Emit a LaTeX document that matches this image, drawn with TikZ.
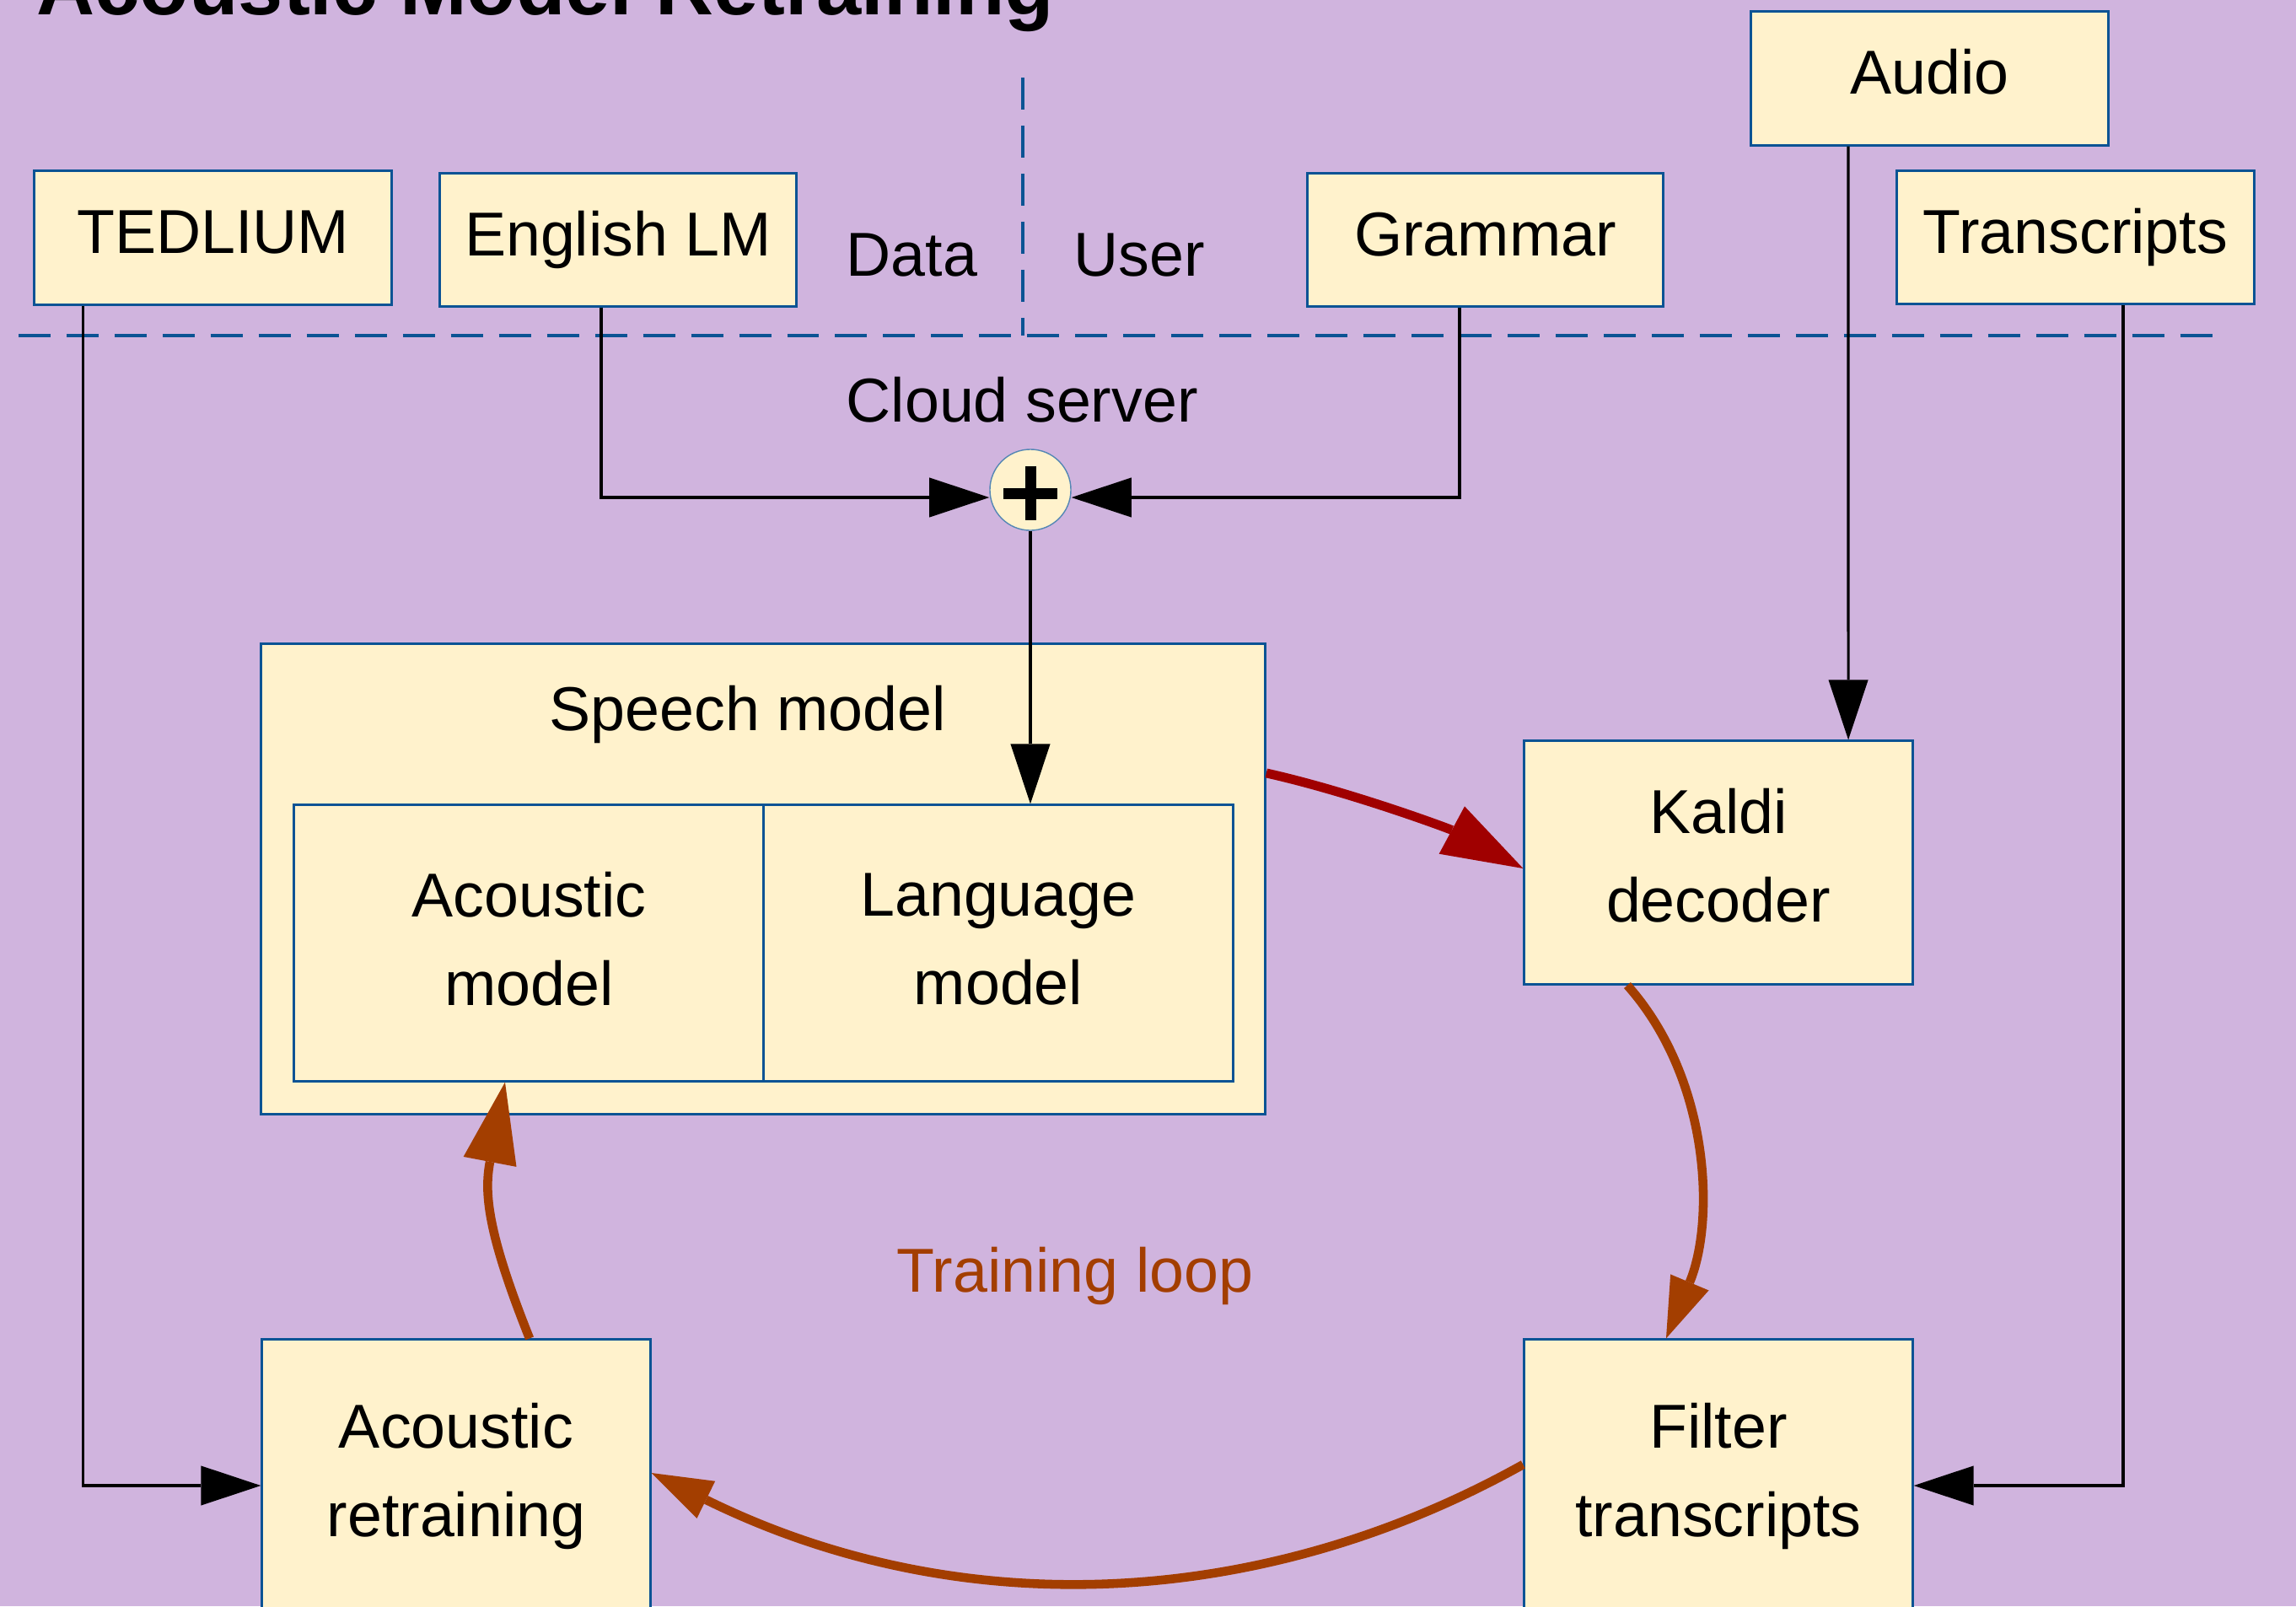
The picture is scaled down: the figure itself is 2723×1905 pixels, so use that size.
\documentclass[tikz,border=0pt]{standalone}
\usepackage{fontspec}
\setmainfont{Liberation Sans}
\usetikzlibrary{arrows.meta,calc}
\definecolor{bg}{RGB}{208,180,222}
\definecolor{cream}{RGB}{255,242,204}
\definecolor{bord}{RGB}{11,83,148}
\definecolor{darkred}{RGB}{160,0,0}
\definecolor{rust}{RGB}{163,62,0}
\newcommand{\dropby}[1]{\rule[-#1]{0pt}{0pt}}
\begin{document}
\begin{tikzpicture}[x=0.01cm,y=-0.01cm,
  font=\fontsize{20.92pt}{29.87pt}\selectfont,
  box/.style={draw=bord,fill=cream,line width=0.85pt,inner sep=0pt,align=center},
  oneline/.style={text height=15.05pt,text depth=4.38pt},
  conn/.style={line width=0.9pt,-{Triangle[length=20.2pt,width=13.4pt,line width=0pt]}},
  bigred/.style={darkred,line width=3.1pt,-{Triangle[length=27.3pt,width=18.2pt,line width=0pt]}},
  loopbig/.style={rust,line width=3pt,-{Triangle[length=27.3pt,width=18.2pt,line width=0pt]}},
  loopsmall/.style={rust,line width=3pt,-{Triangle[length=20.5pt,width=14pt,line width=0pt]}},
  sepline/.style={draw=bord,line width=1.1pt,dash pattern=on 10.8pt off 5.4pt},
  lbl/.style={anchor=base west,inner sep=0pt}]
\useasboundingbox (0,0) rectangle (2723,1905);
\fill[bg] (0,0) rectangle (2723,1905);

% title
\node[lbl,font=\fontsize{27.2pt}{32pt}\selectfont\bfseries] (title) at (43,17) {Acoustic Model Retraining};

% separators
\coordinate (hl) at (22,398);
\coordinate (hr) at (2635,398);
\coordinate (vt) at (1213,92);
\coordinate (vb) at (1213,398);
\draw[sepline] (hl) -- (hr);
\draw[sepline] (vt) -- (vb);

% labels
\node[lbl] (data) at (1003,327) {Data};
\node[lbl] (user) at (1273,327) {User};
\node[lbl] (cloud) at (1003,500) {Cloud server};
\node[lbl,text=rust] (tl) at (1063,1532) {Training loop};

% top boxes
\node[box,oneline,minimum width=4.23cm,minimum height=1.58cm] (ted) at (252.5,282) {TEDLIUM};
\node[box,oneline,minimum width=4.22cm,minimum height=1.57cm] (elm) at (733,284.5) {English LM};
\node[box,oneline,minimum width=4.22cm,minimum height=1.57cm] (gram) at (1761.5,284.5) {Grammar};
\node[box,oneline,minimum width=4.23cm,minimum height=1.58cm] (audio) at (2288.5,93) {Audio};
\node[box,oneline,minimum width=4.23cm,minimum height=1.57cm] (trans) at (2461.5,281.5) {Transcripts};

% speech model
\node[box,minimum width=11.9cm,minimum height=5.57cm] (sm) at (905,1042.5) {};
\node[lbl] (smt) at (651,866) {Speech model};
\node[box,minimum width=5.57cm,minimum height=3.27cm] (am) at (627.5,1118.5) {Acoustic\\model\dropby{0.1cm}};
\node[box,minimum width=5.56cm,minimum height=3.27cm] (lm) at (1184,1118.5) {Language\\model\dropby{0.1cm}};

% other boxes
\node[box,minimum width=4.60cm,minimum height=2.88cm] (kaldi) at (2038,1023) {Kaldi\\decoder\dropby{0.17cm}};
\node[box,minimum width=4.60cm,minimum height=3.32cm] (ar) at (541,1755) {Acoustic\\retraining\dropby{0.224cm}};
\node[box,minimum width=4.60cm,minimum height=3.32cm] (ft) at (2038,1755) {Filter\\transcripts\dropby{0.224cm}};

% plus
\node[circle,draw=bord!70,fill=cream,line width=0.4pt,minimum size=0.96cm,inner sep=0pt] (plus) at (1222,581) {};
\draw[line width=3.7pt] ([xshift=-0.315cm,yshift=-0.04cm]plus.center) -- ([xshift=0.315cm,yshift=-0.04cm]plus.center);
\draw[line width=3.7pt] ([yshift=0.28cm]plus.center) -- ([yshift=-0.36cm]plus.center);

% black connectors
\draw[conn] ([xshift=-0.2cm]elm.south) |- ([yshift=-0.09cm]plus.west);
\draw[conn] ([xshift=-0.305cm]gram.south) |- ([yshift=-0.09cm]plus.east);
\draw[conn] (plus.south) -- (plus.south |- lm.north);
\draw[conn] ([xshift=-0.965cm]audio.south) -- ([xshift=1.54cm]kaldi.north);
\draw[conn] ([xshift=-1.535cm]ted.south) |- ([yshift=-0.07cm]ar.west);
\draw[conn] ([xshift=0.565cm]trans.south) |- ([yshift=-0.07cm]ft.east);

% loop
\draw[bigred] ([yshift=1.255cm]sm.east) .. controls (1601,939) and (1719,983) .. ([yshift=-0.07cm]kaldi.west);
\draw[loopsmall] ([xshift=-1.08cm]kaldi.south) .. controls (2029,1280) and (2034,1449) .. ([xshift=-0.62cm]ft.north);
\draw[loopsmall] ([yshift=0.18cm]ft.west) .. controls (1506,1905) and (1147,1931) .. ([yshift=0.08cm]ar.east);
\draw[loopbig] ([xshift=0.87cm]ar.north) .. controls (578,1462) and (574,1415) .. ([xshift=-0.285cm]am.south);
\end{tikzpicture}
\end{document}
